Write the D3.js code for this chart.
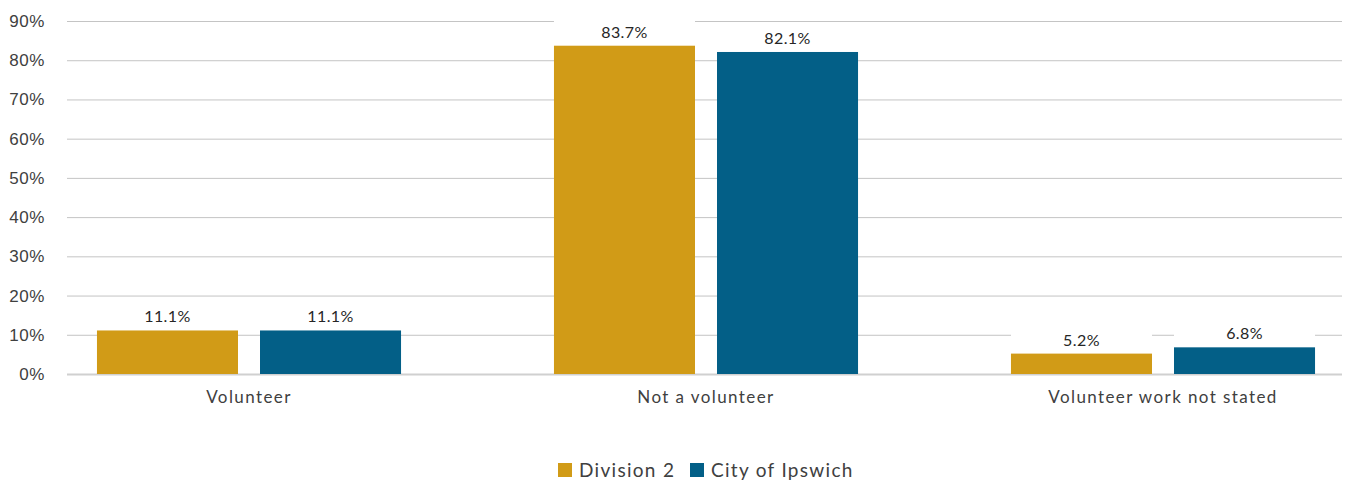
<!DOCTYPE html>
<html>
<head>
<meta charset="utf-8">
<script src="https://cdn.jsdelivr.net/npm/d3@7"></script>
<style>
  html, body { margin: 0; padding: 0; background: #fff; }
  svg { display: block; font-family: Lato, "Open Sans", sans-serif; }
</style>
</head>
<body>
<svg id="chart" width="1346" height="484"></svg>
<script>
const categories = ["Volunteer", "Not a volunteer", "Volunteer work not stated"];
const seriesNames = ["Division 2", "City of Ipswich"];
const division2 = [11.1, 83.7, 5.2];
const ipswich = [11.1, 82.1, 6.8];
const yTicks = [0, 10, 20, 30, 40, 50, 60, 70, 80, 90];
const colors = ["#D19B17", "#035F87"];

const svg = d3.select("#chart");
const gridLeft = 67, gridRight = 1342;
const plotBottom = 374, plotTop = 21;

const x0 = d3.scaleBand().domain(categories).range([20.5, 1391.5]).paddingInner(0).paddingOuter(0);
const x1 = d3.scaleBand().domain(seriesNames).range([0, x0.bandwidth()]).paddingInner(0.135).paddingOuter(0.469);
const y = d3.scaleLinear().domain([0, 90]).range([plotBottom, plotTop]);

// gridlines + y tick labels
const yAxis = d3.axisLeft(y).tickValues(yTicks).tickFormat(d => d + "%").tickSize(-(gridRight - gridLeft)).tickPadding(22);
const gy = svg.append("g").attr("transform", `translate(${gridLeft},0)`).call(yAxis);
gy.select(".domain").remove();
gy.selectAll(".tick line").attr("stroke", d => d === 0 ? "#d0d0d0" : "#c4c4c4").attr("stroke-width", d => d === 0 ? 2 : 1);
gy.selectAll(".tick text").attr("fill", "#404040").style("font-size", "17px").style("letter-spacing", "0.6px");

// bars
const data = categories.map((c, i) => ({ cat: c, vals: [division2[i], ipswich[i]] }));
const groups = svg.append("g").selectAll("g").data(data).join("g")
  .attr("transform", d => `translate(${x0(d.cat)},0)`);

const items = d => d.vals.map((v, j) => ({ v, s: seriesNames[j], j }));

groups.selectAll("rect.bar").data(items)
  .join("rect").attr("class", "bar")
  .attr("x", d => x1(d.s)).attr("width", x1.bandwidth())
  .attr("y", d => y(d.v)).attr("height", d => y(0) - y(d.v))
  .attr("fill", d => colors[d.j]);

// label boxes and labels
groups.selectAll("rect.lbl").data(items)
  .join("rect").attr("class", "lbl")
  .attr("x", d => x1(d.s)).attr("width", x1.bandwidth())
  .attr("y", d => y(d.v) - 25).attr("height", 22)
  .attr("fill", "#fff");

groups.selectAll("text.val").data(items)
  .join("text").attr("class", "val")
  .attr("x", d => x1(d.s) + x1.bandwidth() / 2)
  .attr("y", d => y(d.v) - 8)
  .attr("text-anchor", "middle")
  .attr("fill", "#262626")
  .style("font-size", "16px")
  .style("letter-spacing", "0.4px")
  .text(d => d.v.toFixed(1) + "%");

// category axis labels
svg.append("g").selectAll("text").data(categories).join("text")
  .attr("x", d => x0(d) + x0.bandwidth() / 2)
  .attr("y", 403)
  .attr("text-anchor", "middle")
  .attr("fill", "#404040")
  .style("font-size", "17px")
  .style("letter-spacing", "1.4px")
  .text(d => d);

// legend
const legend = svg.append("g").attr("transform", "translate(558,470)");
const legItems = [
  { name: seriesNames[0], x: 0 },
  { name: seriesNames[1], x: 132 }
];
legItems.forEach((it, i) => {
  legend.append("rect").attr("x", it.x).attr("y", -7).attr("width", 14).attr("height", 14).attr("fill", colors[i]);
  legend.append("text").attr("x", it.x + 21).attr("y", 0).attr("dy", "0.35em")
    .attr("fill", "#404040").style("font-size", "19px").style("letter-spacing", "1.3px").text(it.name);
});
</script>
</body>
</html>
